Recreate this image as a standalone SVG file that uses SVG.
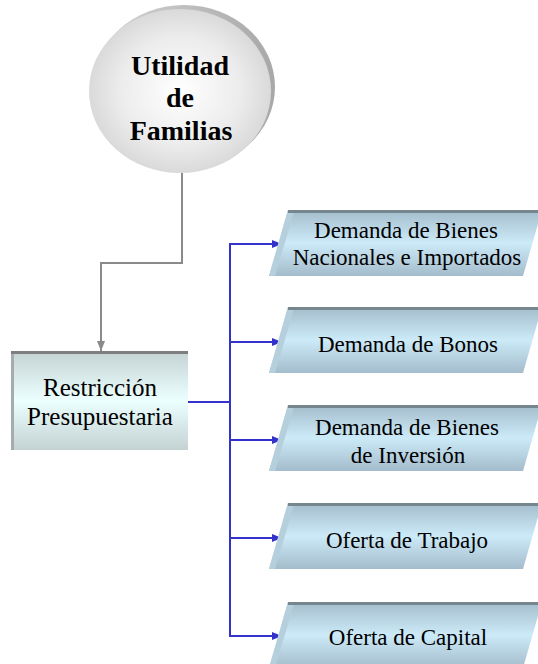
<svg xmlns="http://www.w3.org/2000/svg" width="538" height="664" viewBox="0 0 538 664">
<defs>
<radialGradient id="gCircle" cx="0.5" cy="0.5" r="0.55">
<stop offset="0" stop-color="#ffffff"/>
<stop offset="0.6" stop-color="#ececec"/>
<stop offset="1" stop-color="#d4d4d4"/>
</radialGradient>
<linearGradient id="gRim" x1="0" y1="0" x2="1" y2="0">
<stop offset="0" stop-color="#d6d6d6"/>
<stop offset="1" stop-color="#a8a8a8"/>
</linearGradient>
<linearGradient id="gBox" x1="0" y1="0" x2="0" y2="1">
<stop offset="0" stop-color="#c4d2d2"/>
<stop offset="0.5" stop-color="#ecffff"/>
<stop offset="1" stop-color="#c4d2d2"/>
</linearGradient>
<linearGradient id="gPar" x1="0" y1="0" x2="0" y2="1">
<stop offset="0" stop-color="#a4bccc"/>
<stop offset="0.5" stop-color="#cceaf8"/>
<stop offset="1" stop-color="#a4bccc"/>
</linearGradient>
<marker id="aGray" markerUnits="userSpaceOnUse" markerWidth="10" markerHeight="10" viewBox="0 0 10 10" refX="10" refY="5" orient="auto">
<path d="M0,1 L10,5 L0,9 Z" fill="#8a8a8a"/>
</marker>
<marker id="aBlue" markerUnits="userSpaceOnUse" markerWidth="10" markerHeight="10" viewBox="0 0 10 10" refX="10" refY="5" orient="auto">
<path d="M0,1 L10,5 L0,9 Z" fill="#3333cc"/>
</marker>
</defs>
<style>
.bold{font-family:"Liberation Serif","Times New Roman",serif;font-weight:bold;font-size:28px;fill:#000;text-anchor:middle}
.txt{font-family:"Liberation Serif","Times New Roman",serif;font-size:23px;fill:#000;text-anchor:middle}
.bt{font-family:"Liberation Serif","Times New Roman",serif;font-size:25px;fill:#000;text-anchor:middle}
.par{fill:url(#gPar)}
.top{stroke:#76868f;stroke-width:3;fill:none}
.side{fill:#b6cfdc}
.gray{stroke:#8a8a8a;stroke-width:2;fill:none}
.blue{stroke:#3333cc;stroke-width:2;fill:none}
</style>

<g id="connectors">
<path class="gray" d="M182,173 V263 H101 V351" marker-end="url(#aGray)"/>
<path class="blue" d="M188,402 H230"/>
<path class="blue" d="M230,243 V637"/>
<path class="blue" d="M229,244 H282" marker-end="url(#aBlue)"/>
<path class="blue" d="M229,342 H282" marker-end="url(#aBlue)"/>
<path class="blue" d="M229,440 H282" marker-end="url(#aBlue)"/>
<path class="blue" d="M229,538 H282" marker-end="url(#aBlue)"/>
<path class="blue" d="M229,636 H282" marker-end="url(#aBlue)"/>
</g>

<g id="utilidad">
<ellipse cx="184" cy="87" rx="91" ry="82" fill="url(#gRim)"/>
<ellipse cx="180" cy="91" rx="91" ry="82" fill="url(#gCircle)"/>
<text class="bold" x="180" y="75">Utilidad</text>
<text class="bold" x="180" y="107">de</text>
<text class="bold" x="181" y="140">Familias</text>
</g>

<g id="restriccion">
<rect x="11" y="351" width="177" height="99" fill="url(#gBox)"/>
<rect x="11" y="351" width="3" height="99" fill="#a4acac"/>
<line x1="11" y1="352.5" x2="188" y2="352.5" stroke="#7e7e7e" stroke-width="3"/>
<text class="bt" x="100" y="396">Restricción</text>
<text class="bt" x="100" y="425">Presupuestaria</text>
</g>

<g id="demanda-bienes">
<polygon class="par" points="288,210 542,210 523,276 269,276"/>
<polygon class="side" points="288,210 294,212 275,276 269,276"/>
<line class="top" x1="288" y1="211.5" x2="542" y2="211.5"/>
<text class="txt" x="406" y="238">Demanda de Bienes</text>
<text class="txt" x="407" y="265">Nacionales e Importados</text>
</g>

<g id="demanda-bonos">
<polygon class="par" points="288,307 542,307 523,373 269,373"/>
<polygon class="side" points="288,307 294,309 275,373 269,373"/>
<line class="top" x1="288" y1="308.5" x2="542" y2="308.5"/>
<text class="txt" x="408" y="352">Demanda de Bonos</text>
</g>

<g id="demanda-inversion">
<polygon class="par" points="288,405 542,405 523,471 269,471"/>
<polygon class="side" points="288,405 294,407 275,471 269,471"/>
<line class="top" x1="288" y1="406.5" x2="542" y2="406.5"/>
<text class="txt" x="407" y="435">Demanda de Bienes</text>
<text class="txt" x="408" y="463">de Inversión</text>
</g>

<g id="oferta-trabajo">
<polygon class="par" points="288,503 542,503 523,569 269,569"/>
<polygon class="side" points="288,503 294,505 275,569 269,569"/>
<line class="top" x1="288" y1="504.5" x2="542" y2="504.5"/>
<text class="txt" x="407" y="548">Oferta de Trabajo</text>
</g>

<g id="oferta-capital">
<polygon class="par" points="288,602 542,602 523,668 269,668"/>
<polygon class="side" points="288,602 294,604 275,668 269,668"/>
<line class="top" x1="288" y1="603.5" x2="542" y2="603.5"/>
<text class="txt" x="408" y="645">Oferta de Capital</text>
</g>
</svg>
